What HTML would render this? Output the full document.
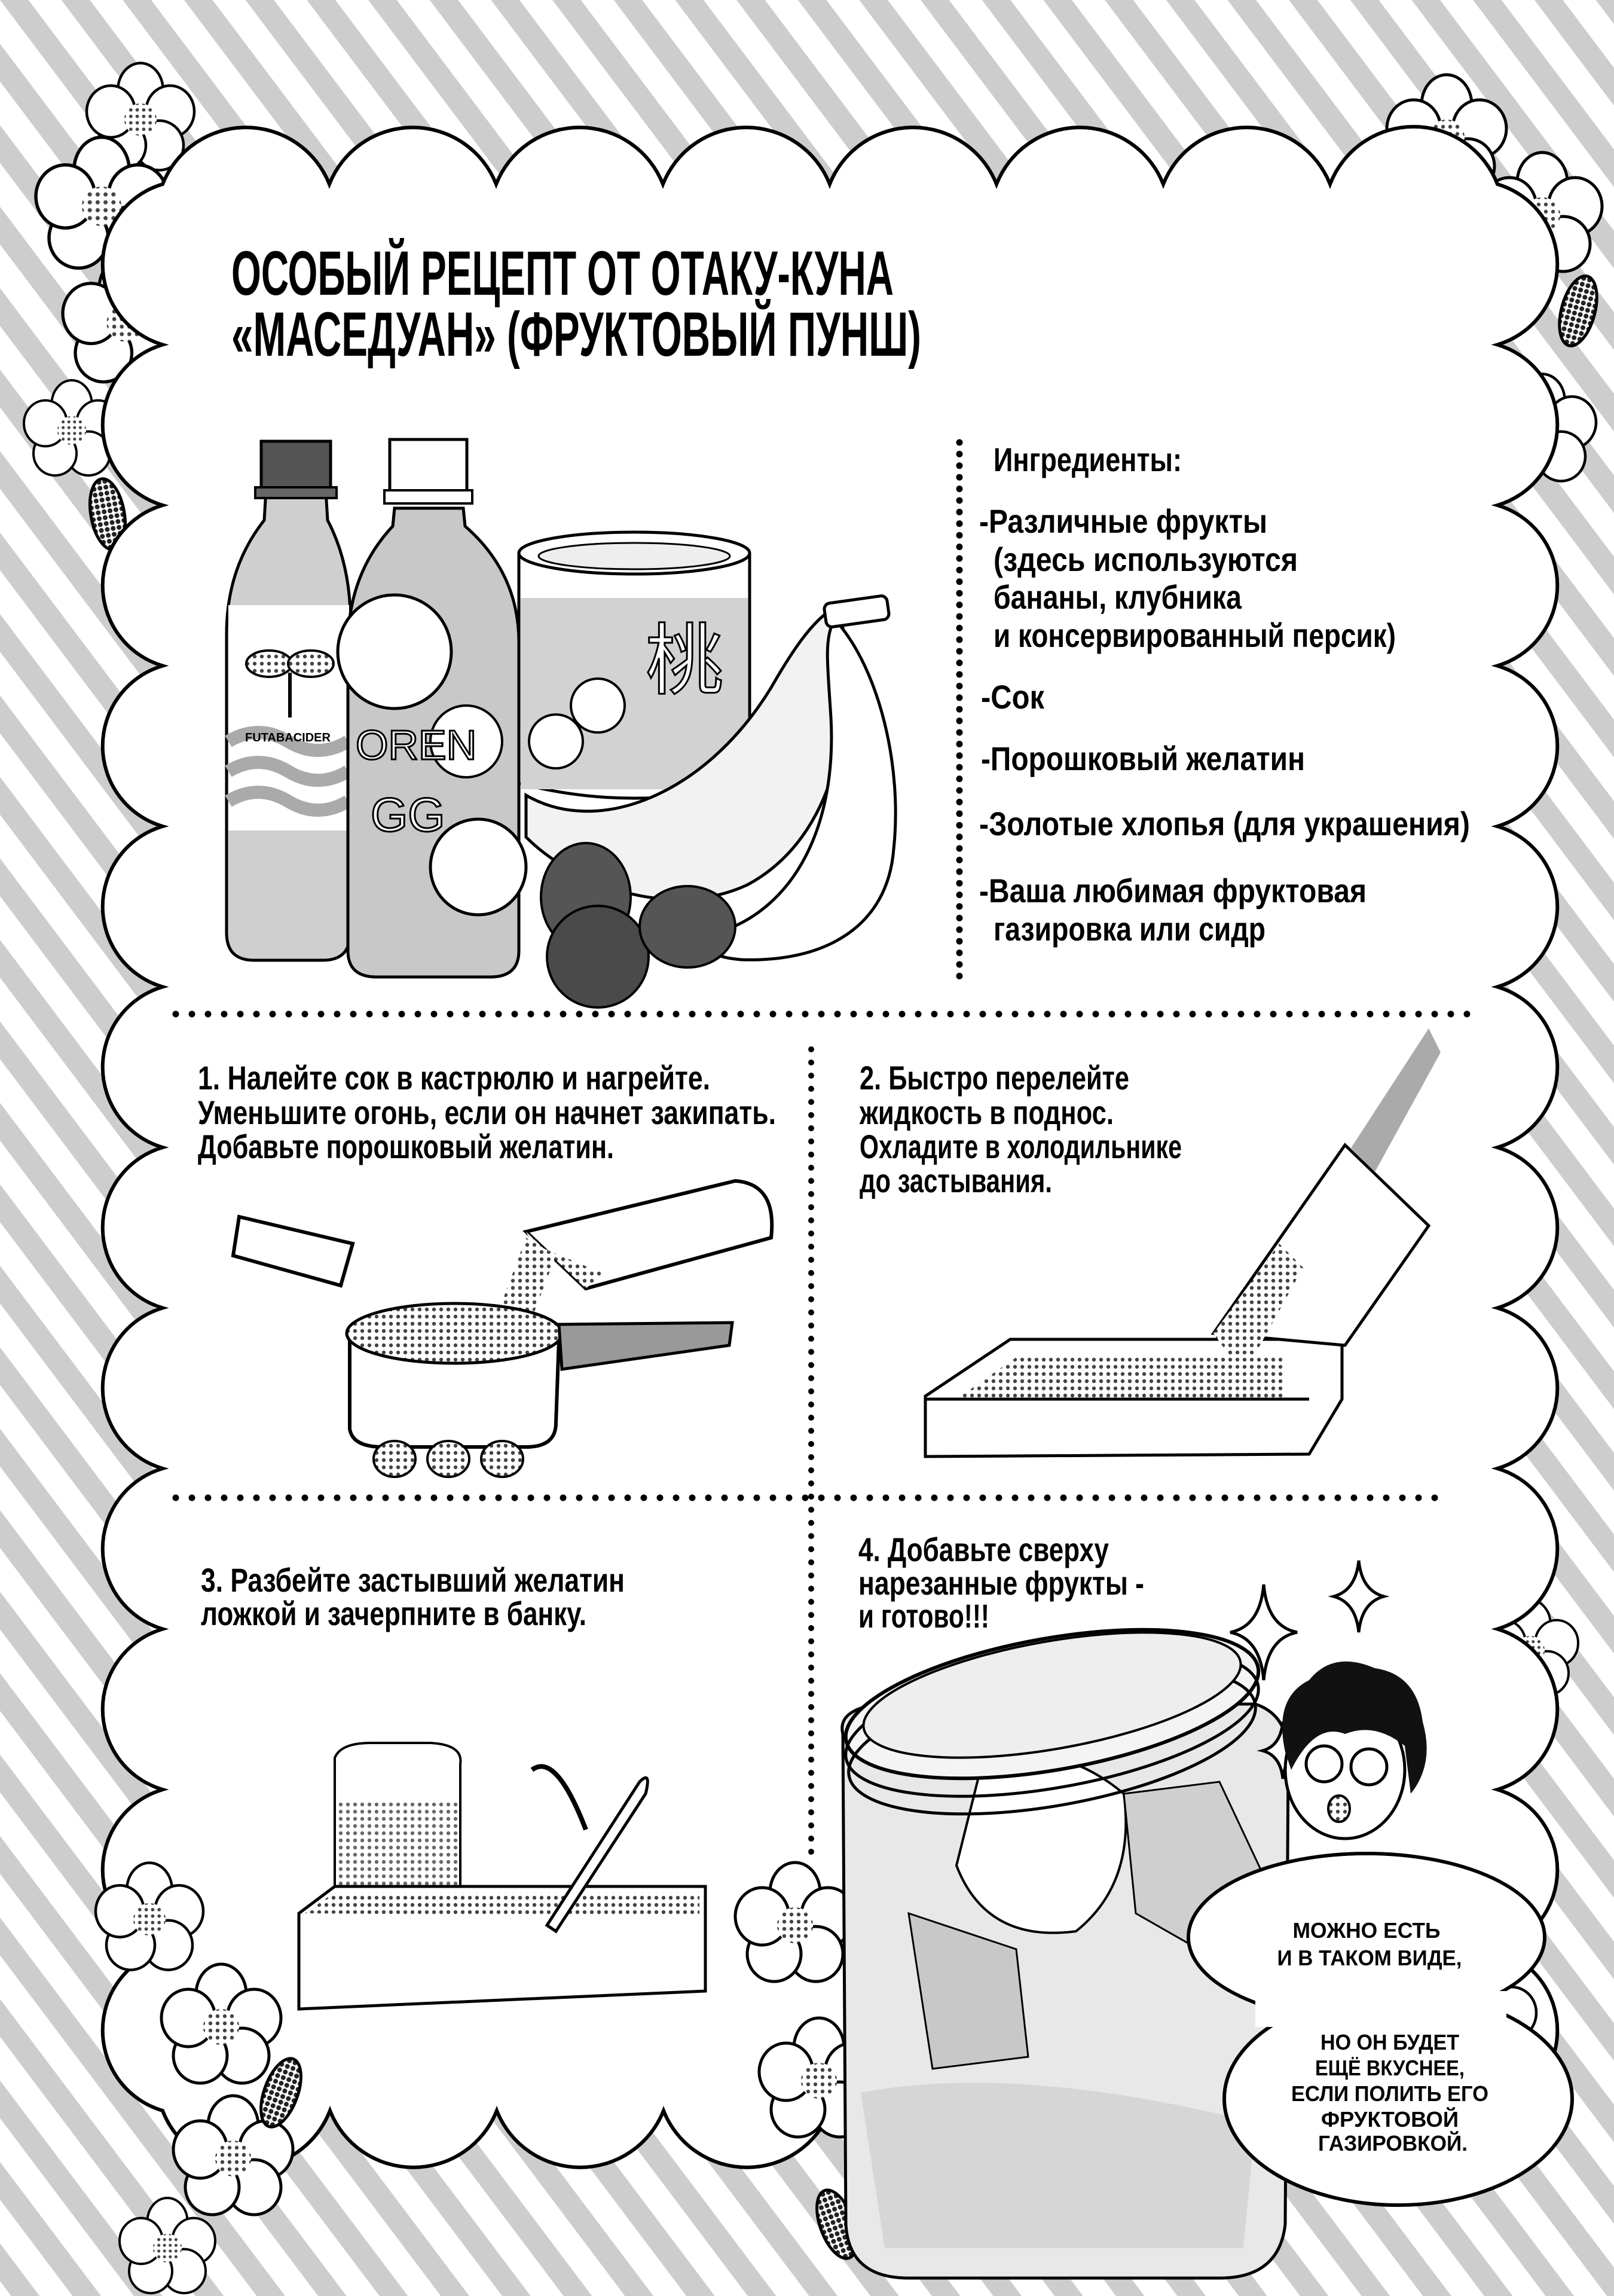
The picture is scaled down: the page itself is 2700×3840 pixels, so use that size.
<!DOCTYPE html>
<html><head><meta charset="utf-8"><style>
html,body{margin:0;padding:0;background:#fff}
svg{display:block}
.t{font-family:"Liberation Sans Narrow","Liberation Sans","DejaVu Sans",sans-serif;font-weight:bold;fill:#000}
.b{font-family:"Liberation Sans Narrow","Liberation Sans","DejaVu Sans",sans-serif;font-weight:bold;fill:#000;text-anchor:middle}
</style></head><body>
<svg width="2700" height="3840" viewBox="0 0 2700 3840" xmlns="http://www.w3.org/2000/svg">
<defs>
<pattern id="st" width="82" height="4000" patternUnits="userSpaceOnUse" patternTransform="rotate(-37)">
<rect x="0" y="0" width="82" height="4000" fill="#fff"/>
<rect x="0" y="0" width="38" height="4000" fill="#cdcdcd"/>
</pattern>
<pattern id="ht" width="12" height="12" patternUnits="userSpaceOnUse">
<rect width="12" height="12" fill="#fff"/><circle cx="6" cy="6" r="3.2" fill="#444"/>
</pattern>
<pattern id="hd" width="10" height="10" patternUnits="userSpaceOnUse">
<rect width="10" height="10" fill="#fff"/><circle cx="5" cy="5" r="4" fill="#222"/>
</pattern>
<g id="fl">
<ellipse cx="0" cy="-55" rx="42" ry="50" fill="#fff" stroke="#000" stroke-width="5"/>
<ellipse cx="55" cy="-15" rx="45" ry="48" fill="#fff" stroke="#000" stroke-width="5"/>
<ellipse cx="35" cy="48" rx="45" ry="46" fill="#fff" stroke="#000" stroke-width="5"/>
<ellipse cx="-35" cy="48" rx="45" ry="46" fill="#fff" stroke="#000" stroke-width="5"/>
<ellipse cx="-55" cy="-15" rx="45" ry="48" fill="#fff" stroke="#000" stroke-width="5"/>
<circle cx="0" cy="0" r="30" fill="url(#ht)"/>
</g>
<g id="lf"><ellipse cx="0" cy="0" rx="28" ry="60" fill="url(#hd)" stroke="#000" stroke-width="5"/></g>
</defs>

<rect width="2700" height="3840" fill="url(#st)"/>

<!-- flowers behind frame -->
<use href="#fl" transform="translate(235,200) scale(0.9)"/>
<use href="#fl" transform="translate(170,345) scale(1.1)"/>
<use href="#lf" transform="translate(310,370) rotate(10)"/>
<use href="#fl" transform="translate(210,540) scale(1.05)"/>
<use href="#fl" transform="translate(120,720) scale(0.8)"/>
<use href="#lf" transform="translate(180,860) rotate(-10)"/>
<use href="#fl" transform="translate(2420,230) scale(1.0)"/>
<use href="#fl" transform="translate(2580,360) scale(1.0)"/>
<use href="#fl" transform="translate(2370,560) scale(0.9)"/>
<use href="#fl" transform="translate(2580,720) scale(0.9)"/>
<use href="#lf" transform="translate(2640,520) rotate(15)"/>
<use href="#fl" transform="translate(2560,2760) scale(0.8)"/>

<!-- scalloped frame -->
<path fill="#fff" stroke="#000" stroke-width="6" d="M272,308
a150,150 0 0 1 279,0 a150,150 0 0 1 279,0 a150,150 0 0 1 279,0 a150,150 0 0 1 279,0
a150,150 0 0 1 279,0 a150,150 0 0 1 279,0 a150,150 0 0 1 279,0 a150,150 0 0 1 280,0
a140,140 0 0 1 0,268.5 a140,140 0 0 1 0,268.5 a140,140 0 0 1 0,268.5 a140,140 0 0 1 0,268.5
a140,140 0 0 1 0,268.5 a140,140 0 0 1 0,268.5 a140,140 0 0 1 0,268.5 a140,140 0 0 1 0,268.5
a140,140 0 0 1 0,268.5 a140,140 0 0 1 0,268.5 a140,140 0 0 1 0,268.5 a140,140 0 0 1 0,268.5
a150,150 0 0 1 -279,0 a150,150 0 0 1 -279,0 a150,150 0 0 1 -279,0 a150,150 0 0 1 -279,0
a150,150 0 0 1 -279,0 a150,150 0 0 1 -279,0 a150,150 0 0 1 -279,0 a150,150 0 0 1 -280,0
a140,140 0 0 1 0,-268.5 a140,140 0 0 1 0,-268.5 a140,140 0 0 1 0,-268.5 a140,140 0 0 1 0,-268.5
a140,140 0 0 1 0,-268.5 a140,140 0 0 1 0,-268.5 a140,140 0 0 1 0,-268.5 a140,140 0 0 1 0,-268.5
a140,140 0 0 1 0,-268.5 a140,140 0 0 1 0,-268.5 a140,140 0 0 1 0,-268.5 a140,140 0 0 1 0,-268.5 Z"/>

<!-- title -->
<text class="t" x="387" y="493" font-size="105" textLength="1108" lengthAdjust="spacingAndGlyphs">ОСОБЫЙ РЕЦЕПТ ОТ ОТАКУ-КУНА</text>
<text class="t" x="387" y="595" font-size="105" textLength="1154" lengthAdjust="spacingAndGlyphs">«МАСЕДУАН» (ФРУКТОВЫЙ ПУНШ)</text>

<!-- ingredients -->
<line x1="1605" y1="740" x2="1605" y2="1642" stroke="#000" stroke-width="11" stroke-linecap="round" stroke-dasharray="0 19.4"/>
<g class="t" font-size="56">
<text x="1662" y="788" textLength="315" lengthAdjust="spacingAndGlyphs">Ингредиенты:</text>
<text x="1638" y="891" textLength="482" lengthAdjust="spacingAndGlyphs">-Различные фрукты</text>
<text x="1662" y="955" textLength="509" lengthAdjust="spacingAndGlyphs">(здесь используются</text>
<text x="1662" y="1018" textLength="415" lengthAdjust="spacingAndGlyphs">бананы, клубника</text>
<text x="1662" y="1082" textLength="673" lengthAdjust="spacingAndGlyphs">и консервированный персик)</text>
<text x="1641" y="1185" textLength="106" lengthAdjust="spacingAndGlyphs">-Сок</text>
<text x="1641" y="1288" textLength="542" lengthAdjust="spacingAndGlyphs">-Порошковый желатин</text>
<text x="1638" y="1397" textLength="821" lengthAdjust="spacingAndGlyphs">-Золотые хлопья (для украшения)</text>
<text x="1638" y="1509" textLength="648" lengthAdjust="spacingAndGlyphs">-Ваша любимая фруктовая</text>
<text x="1662" y="1573" textLength="455" lengthAdjust="spacingAndGlyphs">газировка или сидр</text>
</g>

<!-- bottle 1 -->
<path d="M445,820 L545,820 L548,870 Q590,950 586,1060 L586,1560 Q586,1606 540,1606 L425,1606 Q379,1606 379,1560 L379,1060 Q379,950 442,870 Z" fill="#cfcfcf" stroke="#000" stroke-width="5"/>
<rect x="382" y="1012" width="202" height="377" fill="#fff"/>
<path d="M382,1240 q50,-30 100,0 t100,0 M382,1290 q50,-30 100,0 t100,0 M382,1340 q50,-30 100,0 t100,0" stroke="#aaa" stroke-width="22" fill="none"/>
<ellipse cx="450" cy="1110" rx="38" ry="22" fill="url(#ht)" stroke="#000" stroke-width="4"/>
<ellipse cx="520" cy="1110" rx="38" ry="22" fill="url(#ht)" stroke="#000" stroke-width="4"/>
<line x1="485" y1="1125" x2="485" y2="1200" stroke="#000" stroke-width="6"/>
<text x="410" y="1240" font-family="Liberation Sans" font-size="20" font-weight="bold">FUTABACIDER</text>
<rect x="437" y="738" width="116" height="80" fill="#555" stroke="#000" stroke-width="5"/>
<rect x="427" y="815" width="136" height="18" fill="#666" stroke="#000" stroke-width="4"/>
<!-- bottle 2 -->
<path d="M660,850 L775,850 L778,880 Q870,960 868,1080 L868,1590 Q868,1634 820,1634 L630,1634 Q582,1634 582,1590 L582,1080 Q582,960 657,880 Z" fill="#c8c8c8" stroke="#000" stroke-width="5"/>
<circle cx="660" cy="1090" r="95" fill="#fff" stroke="#000" stroke-width="5"/>
<circle cx="780" cy="1240" r="60" fill="#fff" stroke="#000" stroke-width="4"/>
<circle cx="800" cy="1450" r="80" fill="#fff" stroke="#000" stroke-width="5"/>
<text x="595" y="1270" font-family="Liberation Sans" font-size="70" fill="#fff" stroke="#000" stroke-width="3">OREN</text>
<text x="620" y="1390" font-family="Liberation Sans" font-size="80" fill="#fff" stroke="#000" stroke-width="3">GG</text>
<rect x="652" y="735" width="129" height="100" fill="#fff" stroke="#000" stroke-width="5"/>
<rect x="643" y="820" width="147" height="22" fill="#fff" stroke="#000" stroke-width="4"/>
<!-- can -->
<path d="M868,925 L868,1310 Q1061,1360 1254,1310 L1254,925" fill="#fff" stroke="#000" stroke-width="5"/>
<rect x="871" y="1000" width="380" height="320" fill="#d2d2d2"/>
<ellipse cx="1061" cy="925" rx="193" ry="35" fill="#fff" stroke="#000" stroke-width="5"/>
<ellipse cx="1061" cy="930" rx="160" ry="22" fill="#eee" stroke="#000" stroke-width="3"/>
<text x="1080" y="1150" font-family="Noto Sans CJK JP" font-size="130" fill="#fff" stroke="#000" stroke-width="3">桃</text>
<circle cx="1000" cy="1180" r="45" fill="#fff" stroke="#000" stroke-width="4"/>
<circle cx="930" cy="1240" r="45" fill="#fff" stroke="#000" stroke-width="4"/>
<!-- bananas -->
<path d="M880,1330 C1000,1400 1180,1330 1290,1150 C1330,1080 1360,1040 1390,1020 L1410,1050 C1430,1200 1400,1400 1250,1480 C1120,1540 960,1480 880,1400 Z" fill="#f2f2f2" stroke="#000" stroke-width="5"/>
<path d="M1400,1040 C1470,1120 1510,1280 1495,1420 C1485,1550 1380,1610 1240,1605 C1180,1600 1170,1580 1200,1560 C1330,1520 1400,1380 1390,1200 C1385,1120 1380,1080 1390,1050 Z" fill="#fff" stroke="#000" stroke-width="5"/>
<rect x="1380" y="1003" width="106" height="40" rx="10" fill="#fff" stroke="#000" stroke-width="5" transform="rotate(-8 1430 1023)"/>
<!-- strawberries -->
<ellipse cx="980" cy="1500" rx="75" ry="90" fill="#555" stroke="#000" stroke-width="4"/>
<ellipse cx="1000" cy="1600" rx="85" ry="85" fill="#4a4a4a" stroke="#000" stroke-width="4"/>
<ellipse cx="1150" cy="1550" rx="80" ry="68" fill="#555" stroke="#000" stroke-width="4"/>

<!-- dividers -->
<line x1="294" y1="1696" x2="2457" y2="1696" stroke="#000" stroke-width="11" stroke-linecap="round" stroke-dasharray="0 27"/>
<line x1="294" y1="2505" x2="2420" y2="2505" stroke="#000" stroke-width="11" stroke-linecap="round" stroke-dasharray="0 27"/>
<line x1="1357" y1="1755" x2="1357" y2="3100" stroke="#000" stroke-width="10" stroke-linecap="round" stroke-dasharray="0 22"/>

<!-- steps text -->
<g class="t" font-size="56">
<text x="331" y="1822" textLength="857" lengthAdjust="spacingAndGlyphs">1. Налейте сок в кастрюлю и нагрейте.</text>
<text x="331" y="1880" textLength="967" lengthAdjust="spacingAndGlyphs">Уменьшите огонь, если он начнет закипать.</text>
<text x="331" y="1937" textLength="696" lengthAdjust="spacingAndGlyphs">Добавьте порошковый желатин.</text>
<text x="1438" y="1822" textLength="451" lengthAdjust="spacingAndGlyphs">2. Быстро перелейте</text>
<text x="1438" y="1880" textLength="425" lengthAdjust="spacingAndGlyphs">жидкость в поднос.</text>
<text x="1438" y="1937" textLength="539" lengthAdjust="spacingAndGlyphs">Охладите в холодильнике</text>
<text x="1438" y="1994" textLength="322" lengthAdjust="spacingAndGlyphs">до застывания.</text>
<text x="336" y="2662" textLength="709" lengthAdjust="spacingAndGlyphs">3. Разбейте застывший желатин</text>
<text x="336" y="2718" textLength="645" lengthAdjust="spacingAndGlyphs">ложкой и зачерпните в банку.</text>
<text x="1436" y="2611" textLength="419" lengthAdjust="spacingAndGlyphs">4. Добавьте сверху</text>
<text x="1436" y="2667" textLength="478" lengthAdjust="spacingAndGlyphs">нарезанные фрукты -</text>
<text x="1436" y="2722" textLength="219" lengthAdjust="spacingAndGlyphs">и готово!!!</text>
</g>

<!-- step1 illustration -->
<path d="M400,2035 L590,2080 L570,2150 L390,2100 Z" fill="#fff" stroke="#000" stroke-width="6"/>
<path d="M880,2060 L1230,1975 Q1300,1980 1290,2070 L980,2155 Z" fill="#fff" stroke="#000" stroke-width="6"/>
<path d="M880,2060 L980,2155 L1010,2130 L890,2080 Z" fill="url(#ht)"/>
<path d="M880,2070 L820,2230 L880,2230 L930,2100 Z" fill="url(#ht)"/>
<path d="M585,2240 L585,2390 Q590,2420 640,2420 L880,2420 Q930,2420 930,2380 L935,2240 Z" fill="#fff" stroke="#000" stroke-width="6"/>
<ellipse cx="760" cy="2230" rx="180" ry="50" fill="url(#ht)" stroke="#000" stroke-width="5"/>
<path d="M935,2215 L1225,2212 L1220,2250 L940,2290 Z" fill="#999" stroke="#000" stroke-width="5"/>
<ellipse cx="660" cy="2440" rx="35" ry="30" fill="url(#ht)" stroke="#000" stroke-width="4"/>
<ellipse cx="750" cy="2440" rx="35" ry="30" fill="url(#ht)" stroke="#000" stroke-width="4"/>
<ellipse cx="840" cy="2440" rx="35" ry="30" fill="url(#ht)" stroke="#000" stroke-width="4"/>
<!-- step2 illustration -->
<path d="M1548,2335 L1690,2240 L2245,2240 L2245,2340 L2190,2432 L1548,2436 Z" fill="#fff" stroke="#000" stroke-width="5"/>
<path d="M1600,2340 L1700,2270 L2150,2270 L2150,2340 Z" fill="url(#ht)"/>
<line x1="1548" y1="2340" x2="2190" y2="2340" stroke="#000" stroke-width="5"/>
<path d="M2030,2230 L2250,1915 L2390,2050 L2250,2250 Z" fill="#fff" stroke="#000" stroke-width="5"/>
<path d="M2030,2230 L2140,2080 L2180,2120 L2080,2300 Z" fill="url(#ht)"/>
<path d="M2260,1920 L2390,1720 L2410,1760 L2300,1960 Z" fill="#aaa"/>
<!-- step3 illustration -->
<path d="M560,2940 Q570,2915 620,2915 L720,2915 Q775,2918 770,2950 L770,3160 L560,3160 Z" fill="#fff" stroke="#000" stroke-width="4"/>
<rect x="562" y="3010" width="206" height="150" fill="url(#ht)" opacity="0.8"/>
<path d="M500,3200 L560,3155 L1180,3155 L1180,3330 L500,3360 Z" fill="#fff" stroke="#000" stroke-width="5"/>
<path d="M510,3200 L560,3165 L1170,3165 L1170,3205 Z" fill="url(#ht)"/>
<path d="M1070,2980 Q1090,2960 1080,3000 L930,3230 L915,3220 Z" fill="#fff" stroke="#000" stroke-width="5"/>
<path d="M890,2960 Q930,2930 980,3060" fill="none" stroke="#000" stroke-width="8"/>

<!-- bottom flowers over frame -->
<use href="#fl" transform="translate(250,3210) scale(0.9)"/>
<use href="#fl" transform="translate(370,3390) scale(1.0)"/>
<use href="#fl" transform="translate(390,3610) scale(1.0)"/>
<use href="#fl" transform="translate(280,3760) scale(0.8)"/>
<use href="#lf" transform="translate(470,3500) rotate(20)"/>
<use href="#fl" transform="translate(1330,3220) scale(1.0)"/>
<use href="#fl" transform="translate(1370,3480) scale(1.0)"/>
<use href="#lf" transform="translate(1400,3720) rotate(-20)"/>
<use href="#fl" transform="translate(2480,3380) scale(0.9)"/>

<!-- jar -->
<path d="M1410,2900 Q1400,2860 1470,2850 L2100,2850 Q2160,2870 2155,2950 L2150,3720 Q2140,3810 2040,3810 L1520,3810 Q1420,3810 1415,3720 Z" fill="#e8e8e8" stroke="#000" stroke-width="5"/>
<path d="M1640,2960 Q1760,2900 1880,3000 Q1900,3150 1800,3230 Q1650,3250 1600,3120 Z" fill="#fff" stroke="#000" stroke-width="4"/>
<path d="M1880,3000 L2040,2980 L2120,3150 L2040,3280 L1900,3200 Z" fill="#cfcfcf" stroke="#000" stroke-width="3"/>
<path d="M1520,3200 L1700,3260 L1720,3440 L1560,3460 Z" fill="#c8c8c8" stroke="#000" stroke-width="3"/>
<path d="M1440,3500 Q1700,3450 2100,3550 L2080,3760 L1480,3760 Z" fill="#d6d6d6"/>
<ellipse cx="1760" cy="2850" rx="350" ry="110" transform="rotate(-10 1760 2850)" fill="#f4f4f4" stroke="#000" stroke-width="6"/>
<ellipse cx="1760" cy="2880" rx="350" ry="110" transform="rotate(-10 1760 2880)" fill="none" stroke="#000" stroke-width="5"/>
<ellipse cx="1760" cy="2910" rx="345" ry="110" transform="rotate(-10 1760 2910)" fill="none" stroke="#000" stroke-width="5"/>
<ellipse cx="1760" cy="2835" rx="320" ry="90" transform="rotate(-10 1760 2835)" fill="#eeeeee" stroke="#000" stroke-width="4"/>

<!-- sparkles -->
<path d="M2114,2650 Q2120,2720 2170,2730 Q2120,2740 2114,2810 Q2108,2740 2058,2730 Q2108,2720 2114,2650 Z" fill="#fff" stroke="#000" stroke-width="5"/>
<path d="M2273,2610 Q2278,2660 2315,2670 Q2278,2680 2273,2730 Q2268,2680 2231,2670 Q2268,2660 2273,2610 Z" fill="#fff" stroke="#000" stroke-width="5"/>
<path d="M2146,2880 Q2150,2920 2180,2928 Q2150,2936 2146,2975 Q2142,2936 2112,2928 Q2142,2920 2146,2880 Z" fill="#fff" stroke="#000" stroke-width="5"/>

<!-- character -->
<ellipse cx="2250" cy="2960" rx="100" ry="115" fill="#fff" stroke="#000" stroke-width="5"/>
<path d="M2150,2930 Q2130,2840 2190,2810 Q2230,2760 2300,2790 Q2370,2800 2380,2880 Q2400,2950 2360,3000 L2350,2920 Q2300,2880 2250,2900 Q2200,2880 2160,2960 Z" fill="#111"/>
<circle cx="2215" cy="2950" r="30" fill="#fff" stroke="#000" stroke-width="5"/>
<circle cx="2290" cy="2955" r="30" fill="#fff" stroke="#000" stroke-width="5"/>
<ellipse cx="2240" cy="3025" rx="18" ry="22" fill="url(#ht)" stroke="#000" stroke-width="4"/>

<!-- speech bubble -->
<ellipse cx="2286" cy="3240" rx="298" ry="140" fill="#fff" stroke="#000" stroke-width="6"/>
<ellipse cx="2339" cy="3510" rx="291" ry="178" fill="#fff" stroke="#000" stroke-width="6"/>
<ellipse cx="2286" cy="3240" rx="295" ry="137" fill="#fff"/>
<rect x="2100" y="3330" width="420" height="60" fill="#fff"/>
<g class="b" font-size="36">
<text x="2286" y="3241" textLength="247" lengthAdjust="spacingAndGlyphs">МОЖНО ЕСТЬ</text>
<text x="2291" y="3287" textLength="309" lengthAdjust="spacingAndGlyphs">И В ТАКОМ ВИДЕ,</text>
<text x="2325" y="3428" textLength="232" lengthAdjust="spacingAndGlyphs">НО ОН БУДЕТ</text>
<text x="2325" y="3471" textLength="250" lengthAdjust="spacingAndGlyphs">ЕЩЁ ВКУСНЕЕ,</text>
<text x="2325" y="3514" textLength="330" lengthAdjust="spacingAndGlyphs">ЕСЛИ ПОЛИТЬ ЕГО</text>
<text x="2325" y="3557" textLength="230" lengthAdjust="spacingAndGlyphs">ФРУКТОВОЙ</text>
<text x="2330" y="3597" textLength="250" lengthAdjust="spacingAndGlyphs">ГАЗИРОВКОЙ.</text>
</g>
</svg>
</body></html>
